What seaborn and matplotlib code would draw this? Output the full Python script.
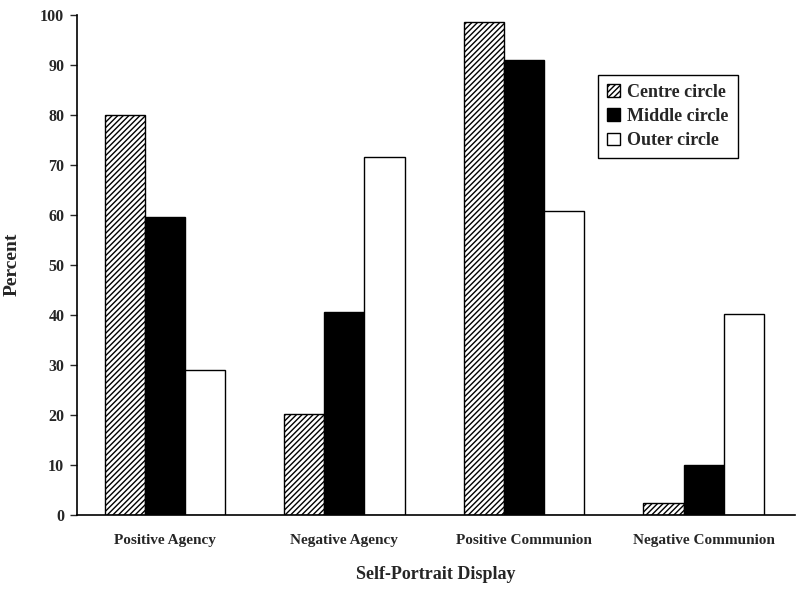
import pandas as pd
import numpy as np
import matplotlib
matplotlib.use('Agg')
import matplotlib.pyplot as plt
import seaborn as sns
from matplotlib.patches import Patch

# data
categories = ['Positive Agency', 'Negative Agency', 'Positive Communion', 'Negative Communion']
circles = ['Centre circle', 'Middle circle', 'Outer circle']
centre_vals = [80, 20.2, 98.5, 2.4]
middle_vals = [59.6, 40.5, 91, 10]
outer_vals = [29, 71.5, 60.7, 40.2]

df = pd.DataFrame({
    'display': categories * 3,
    'circle': [c for c in circles for _ in categories],
    'percent': centre_vals + middle_vals + outer_vals,
})

sns.set_style('white')
plt.rcParams['font.family'] = ['Liberation Serif', 'DejaVu Serif']
plt.rcParams['font.weight'] = 'bold'
plt.rcParams['hatch.linewidth'] = 1.0

fig = plt.figure(figsize=(8, 5.91), dpi=100)
ax = fig.add_axes([0.096, 0.129, 0.898, 0.846])

sns.barplot(data=df, x='display', y='percent', hue='circle', order=categories,
            hue_order=circles, width=0.67, ax=ax, legend=False, saturation=1)

styles = [('white', '//////'), ('black', None), ('white', None)]
for cont, (fc, hatch) in zip(ax.containers, styles):
    for bar in cont:
        bar.set_facecolor(fc)
        bar.set_edgecolor('black')
        bar.set_linewidth(1.0)
        if hatch:
            bar.set_hatch(hatch)

ax.set_ylim(0, 100)
ax.set_yticks(range(0, 101, 10))
ax.set_xlim(-0.49, 3.51)
ax.tick_params(axis='y', left=True, length=5, width=1, direction='out', labelsize=11.5, pad=4)
ax.tick_params(axis='x', bottom=False, labelsize=11, pad=10)
for lbl in ax.get_xticklabels() + ax.get_yticklabels():
    lbl.set_fontweight('bold')
sns.despine(ax=ax)
for side in ['left', 'bottom']:
    ax.spines[side].set_linewidth(1.2)
    ax.spines[side].set_color('black')

ax.set_ylabel('Percent', fontsize=14, fontweight='bold', labelpad=14)
ax.set_xlabel('Self-Portrait Display', fontsize=13, fontweight='bold', labelpad=14)

handles = [Patch(facecolor=fc, edgecolor='black', hatch=h, label=c)
           for (fc, h), c in zip(styles, circles)]
leg = ax.legend(handles=handles, loc='upper left', bbox_to_anchor=(0.726, 0.88),
                frameon=True, fancybox=False, edgecolor='black', framealpha=1,
                fontsize=13, handlelength=0.7, handleheight=0.7, handletextpad=0.4,
                borderpad=0.5, labelspacing=0.4, borderaxespad=0)
leg.get_frame().set_linewidth(1.0)
for t in leg.get_texts():
    t.set_fontweight('bold')

fig.savefig('out.png', dpi=100, facecolor='white')
